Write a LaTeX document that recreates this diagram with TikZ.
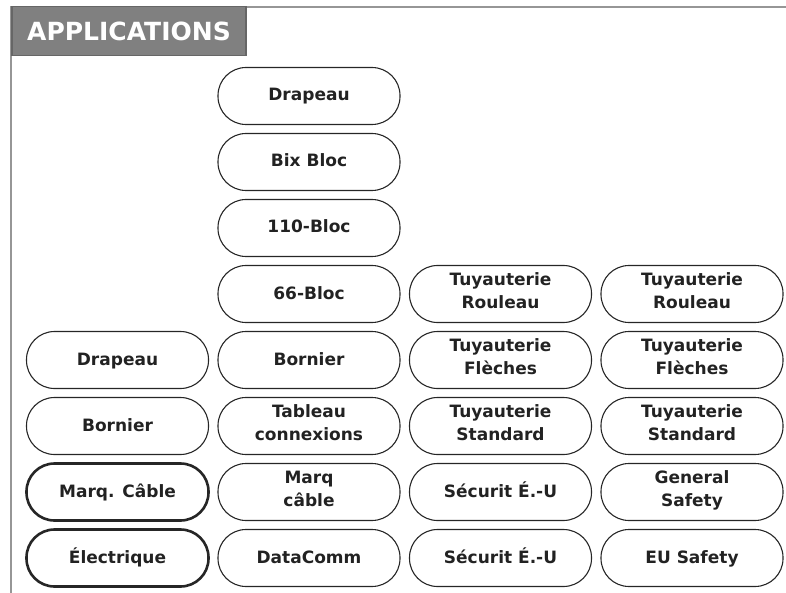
\documentclass[tikz,border=0pt]{standalone}
\usepackage{fontspec}
\setsansfont{DejaVu Sans}
\usetikzlibrary{positioning}
\definecolor{corcadre}{RGB}{150,150,150}
\definecolor{corentete}{RGB}{128,128,128}
\definecolor{cortexte}{RGB}{34,34,34}

\begin{document}
\begin{tikzpicture}[x=1pt, y=-1pt,
  node distance=9pt and 9.5pt,
  appli/.style={rectangle, rounded corners=28pt, minimum width=182pt,
                minimum height=57pt, inner sep=0pt, outer sep=0pt, align=center,
                font=\sffamily\bfseries\fontsize{17}{23}\selectfont,
                execute at begin node=\rule{0pt}{16pt},
                execute at end node=\rule[-6pt]{0pt}{6pt},
                text=cortexte, draw=black!85, line width=1.1pt},
  choisi/.style={appli, line width=2.6pt},
  entete/.style={rectangle, minimum width=234pt, minimum height=49pt,
                 inner sep=0pt, fill=corentete, draw=black!60, line width=1.2pt,
                 text=white, font=\sffamily\bfseries\fontsize{25}{30}\selectfont}
]
  \useasboundingbox (0,0) rectangle (786,593);
  \draw[corcadre, line width=2pt] (11,593) -- (11,7) -- (786,7);
  \node[entete] (titre) at (129,31) {APPLICATIONS};

  % colonne 2
  \node[appli] (drapeauB) at (309,96) {Drapeau};
  \node[appli, below=of drapeauB] (bixbloc) {Bix Bloc};
  \node[appli, below=of bixbloc] (bloc110) {110-Bloc};
  \node[appli, below=of bloc110] (bloc66) {66-Bloc};
  \node[appli, below=of bloc66] (bornierB) {Bornier};
  \node[appli, below=of bornierB] (tableau) {Tableau\\connexions};
  \node[appli, below=of tableau] (marqB) {Marq\\câble};
  \node[appli, below=of marqB] (datacomm) {DataComm};

  % colonne 1
  \node[appli, left=of bornierB] (drapeauA) {Drapeau};
  \node[appli, left=of tableau] (bornierA) {Bornier};
  \node[choisi, left=of marqB] (marqA) {Marq. Câble};
  \node[choisi, left=of datacomm] (electrique) {Électrique};

  % colonne 3
  \node[appli, right=of bloc66] (rouleauC) {Tuyauterie\\Rouleau};
  \node[appli, right=of bornierB] (flechesC) {Tuyauterie\\Flèches};
  \node[appli, right=of tableau] (standardC) {Tuyauterie\\Standard};
  \node[appli, right=of marqB] (securitC) {Sécurit É.-U};
  \node[appli, right=of datacomm] (securitD) {Sécurit É.-U};

  % colonne 4
  \node[appli, right=of rouleauC] (rouleauD) {Tuyauterie\\Rouleau};
  \node[appli, right=of flechesC] (flechesD) {Tuyauterie\\Flèches};
  \node[appli, right=of standardC] (standardD) {Tuyauterie\\Standard};
  \node[appli, right=of securitC] (general) {General\\Safety};
  \node[appli, right=of securitD] (eusafety) {EU Safety};
\end{tikzpicture}
\end{document}
